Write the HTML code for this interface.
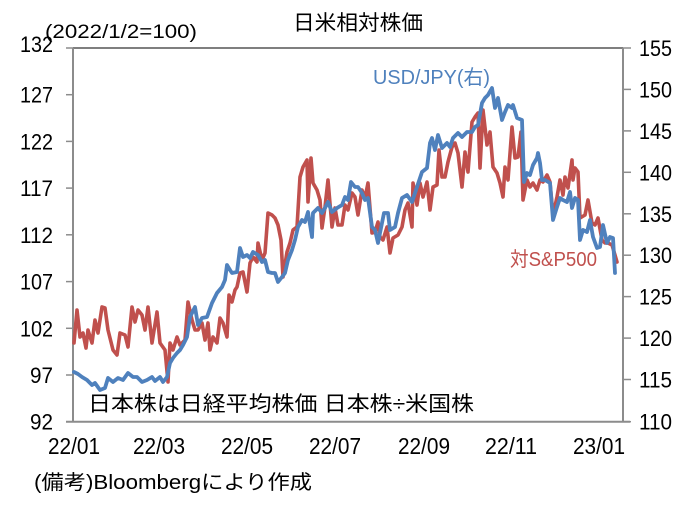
<!DOCTYPE html>
<html><head><meta charset="utf-8"><style>
html,body{margin:0;padding:0;background:#fff;}
svg{display:block;}
text{font-family:"Liberation Sans","Noto Sans CJK JP",sans-serif;fill:#000;}
</style></head><body>
<svg width="696" height="509" viewBox="0 0 696 509" xmlns="http://www.w3.org/2000/svg">
<rect width="696" height="509" fill="#fff"/>
<!-- frame -->
<line x1="73" y1="48" x2="623" y2="48" stroke="#333" stroke-width="1.3"/>
<line x1="73" y1="48" x2="73" y2="422" stroke="#8c8c8c" stroke-width="2"/>
<line x1="623" y1="48" x2="623" y2="422" stroke="#8c8c8c" stroke-width="2"/>
<line x1="66" y1="421.7" x2="630" y2="421.7" stroke="#8c8c8c" stroke-width="2"/>
<!-- left ticks -->
<g stroke="#8c8c8c" stroke-width="1.5">
<line x1="66" y1="48" x2="73" y2="48"/>
<line x1="66" y1="94.7" x2="73" y2="94.7"/>
<line x1="66" y1="141.4" x2="73" y2="141.4"/>
<line x1="66" y1="188.1" x2="73" y2="188.1"/>
<line x1="66" y1="234.8" x2="73" y2="234.8"/>
<line x1="66" y1="281.6" x2="73" y2="281.6"/>
<line x1="66" y1="328.3" x2="73" y2="328.3"/>
<line x1="66" y1="375" x2="73" y2="375"/>
<!-- right ticks -->
<line x1="623" y1="48" x2="631" y2="48"/>
<line x1="623" y1="89.4" x2="631" y2="89.4"/>
<line x1="623" y1="130.9" x2="631" y2="130.9"/>
<line x1="623" y1="172.3" x2="631" y2="172.3"/>
<line x1="623" y1="213.8" x2="631" y2="213.8"/>
<line x1="623" y1="255.2" x2="631" y2="255.2"/>
<line x1="623" y1="296.6" x2="631" y2="296.6"/>
<line x1="623" y1="338.1" x2="631" y2="338.1"/>
<line x1="623" y1="379.5" x2="631" y2="379.5"/>
<line x1="623" y1="421.7" x2="631" y2="421.7"/>
</g>
<!-- left labels -->
<g font-size="22" text-anchor="end">
<text x="53" y="52" textLength="33" lengthAdjust="spacingAndGlyphs">132</text>
<text x="53" y="102.7" textLength="33" lengthAdjust="spacingAndGlyphs">127</text>
<text x="53" y="149.4" textLength="33" lengthAdjust="spacingAndGlyphs">122</text>
<text x="53" y="196.1" textLength="33" lengthAdjust="spacingAndGlyphs">117</text>
<text x="53" y="242.8" textLength="33" lengthAdjust="spacingAndGlyphs">112</text>
<text x="53" y="289.6" textLength="33" lengthAdjust="spacingAndGlyphs">107</text>
<text x="53" y="336.3" textLength="33" lengthAdjust="spacingAndGlyphs">102</text>
<text x="53" y="383" textLength="23" lengthAdjust="spacingAndGlyphs">97</text>
<text x="53" y="429.7" textLength="23" lengthAdjust="spacingAndGlyphs">92</text>
</g>
<!-- right labels -->
<g font-size="22">
<text x="639" y="56" textLength="33" lengthAdjust="spacingAndGlyphs">155</text>
<text x="639" y="97.4" textLength="33" lengthAdjust="spacingAndGlyphs">150</text>
<text x="639" y="138.9" textLength="33" lengthAdjust="spacingAndGlyphs">145</text>
<text x="639" y="180.3" textLength="33" lengthAdjust="spacingAndGlyphs">140</text>
<text x="639" y="221.8" textLength="33" lengthAdjust="spacingAndGlyphs">135</text>
<text x="639" y="263.2" textLength="33" lengthAdjust="spacingAndGlyphs">130</text>
<text x="639" y="304.6" textLength="33" lengthAdjust="spacingAndGlyphs">125</text>
<text x="639" y="346.1" textLength="33" lengthAdjust="spacingAndGlyphs">120</text>
<text x="639" y="387.5" textLength="33" lengthAdjust="spacingAndGlyphs">115</text>
<text x="639" y="429.7" textLength="33" lengthAdjust="spacingAndGlyphs">110</text>
</g>
<!-- x labels -->
<g font-size="23">
<text x="48" y="454" textLength="52" lengthAdjust="spacingAndGlyphs">22/01</text>
<text x="133" y="454" textLength="52" lengthAdjust="spacingAndGlyphs">22/03</text>
<text x="221" y="454" textLength="52" lengthAdjust="spacingAndGlyphs">22/05</text>
<text x="309" y="454" textLength="52" lengthAdjust="spacingAndGlyphs">22/07</text>
<text x="398" y="454" textLength="52" lengthAdjust="spacingAndGlyphs">22/09</text>
<text x="485" y="454" textLength="52" lengthAdjust="spacingAndGlyphs">22/11</text>
<text x="573" y="454" textLength="52" lengthAdjust="spacingAndGlyphs">23/01</text>
</g>
<!-- titles -->
<text x="293" y="30" font-size="21" textLength="130" lengthAdjust="spacingAndGlyphs">日米相対株価</text>
<text x="45" y="38" font-size="19" textLength="152" lengthAdjust="spacingAndGlyphs">(2022/1/2=100)</text>
<!-- series -->
<polyline fill="none" stroke="#C0504D" stroke-width="3.6" stroke-linejoin="round" stroke-linecap="round" points="74,343 77,310 80,337 83,333 86,348 88,330 92,343 95,320 98,333 102,307 105,308 108,330 113,350 117,355 120,333 125,335 128,347 132,307 135,322 138,310 142,315 145,330 148,307 152,343 157,312 160,343 165,350 168,382 170,343 173,350 177,337 180,345 185,340 188,302 192,320 195,330 198,330 202,323 205,340 208,323 210,350 213,337 217,343 220,318 223,323 227,337 229,295 232,302 235,290 237,287 240,273 243,272 247,292 250,263 253,257 257,262 258,243 262,260 265,253 268,213 272,215 275,218 278,225 281,240 283,277 287,252 290,243 293,230 297,227 300,177 303,167 307,160 308,202 311,158 313,183 317,190 320,200 322,228 325,207 328,180 332,227 335,208 338,225 342,225 345,205 348,210 352,193 355,197 358,215 362,190 365,198 368,183 372,233 375,232 378,222 380,237 383,240 387,227 390,253 393,238 398,235 402,227 405,210 408,203 412,227 413,183 417,205 420,183 423,197 427,182 430,210 433,187 437,185 439,150 442,177 445,177 448,162 452,147 455,143 458,153 462,187 465,152 468,172 472,122 475,117 478,113 480,168 483,110 487,145 490,132 493,167 497,173 500,183 503,197 505,167 508,180 512,127 515,158 518,157 521,132 523,200 527,180 530,187 533,183 537,190 540,180 543,182 547,175 550,182 553,215 557,197 560,180 563,195 565,177 568,188 572,160 573,180 575,168 578,172 580,218 585,215 588,200 592,223 595,225 598,218 602,240 605,243 608,243 612,245 615,255 617,262"/>
<polyline fill="none" stroke="#4F81BD" stroke-width="3.8" stroke-linejoin="round" stroke-linecap="round" points="74,372 78,374 82,377 87,380 92,385 95,383 100,390 105,388 108,378 113,382 118,378 123,380 128,373 133,377 137,377 142,382 147,380 152,377 155,381 160,377 163,382 167,377 170,363 173,358 177,353 180,350 183,345 187,337 190,317 195,307 198,325 202,318 207,317 212,303 217,293 222,287 225,280 227,265 230,270 232,273 237,272 240,248 243,257 247,255 250,258 253,252 258,255 262,262 265,260 268,272 272,273 275,273 278,282 282,277 285,273 288,260 292,250 295,240 298,227 302,220 305,222 308,212 312,237 313,213 318,208 322,213 325,208 328,202 332,212 337,208 342,205 345,197 348,200 351,182 355,187 358,187 362,193 365,200 368,198 372,227 375,230 378,243 382,223 384,213 388,213 390,230 395,227 398,213 402,198 407,195 412,202 417,187 422,172 427,168 430,143 432,138 435,150 438,135 442,148 447,143 450,147 453,138 458,133 462,137 467,132 472,132 475,127 478,125 482,103 485,98 488,95 492,88 495,108 498,98 502,120 505,112 508,105 512,108 513,105 517,118 522,120 524,182 527,173 530,175 533,165 537,158 538,153 540,163 542,180 545,180 550,183 553,220 557,207 560,198 563,200 567,202 570,192 572,208 575,198 578,200 580,240 583,230 587,232 590,220 593,237 597,248 600,247 603,225 607,243 610,237 613,238 615,273"/>
<!-- series labels -->
<text x="373" y="84" font-size="20" textLength="117" lengthAdjust="spacingAndGlyphs" style="fill:#4F81BD">USD/JPY(右)</text>
<text x="510" y="266" font-size="20" textLength="87" lengthAdjust="spacingAndGlyphs" style="fill:#C0504D">対S&amp;P500</text>
<text x="88" y="411" font-size="21" textLength="386" lengthAdjust="spacingAndGlyphs">日本株は日経平均株価 日本株÷米国株</text>
<!-- note -->
<text x="34" y="489" font-size="20" textLength="278" lengthAdjust="spacingAndGlyphs">(備考)Bloombergにより作成</text>
</svg>
</body></html>
